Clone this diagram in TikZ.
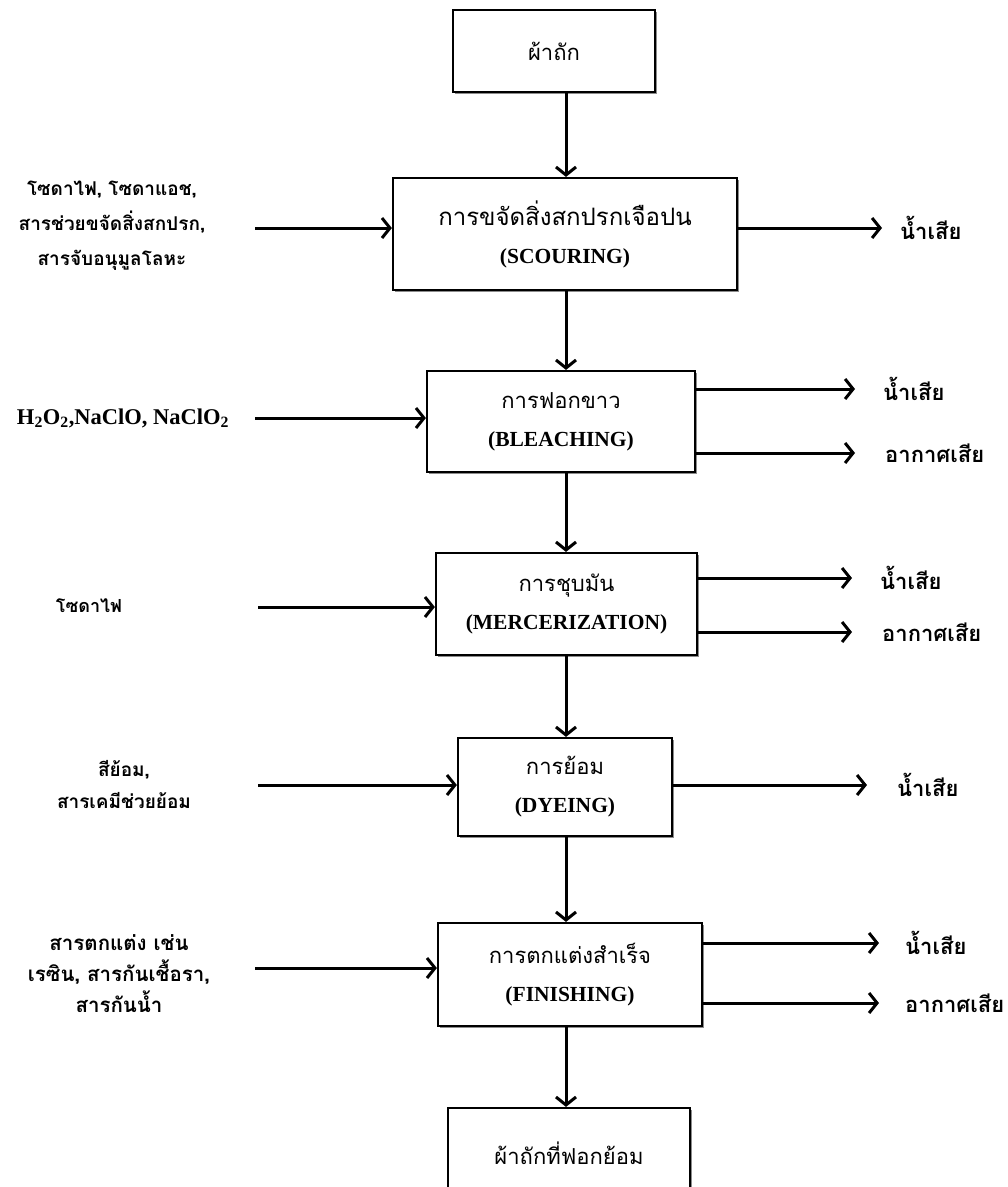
\documentclass[tikz,border=0pt]{standalone}
\usepackage{fontspec}
\setmainfont{Liberation Serif}
\newfontfamily\thai[Script=Thai]{Loma}
\usetikzlibrary{arrows.meta,shadows}
\tikzset{
  proc/.style={draw, line width=2.2pt, fill=white, align=center, inner sep=0pt,
    drop shadow={shadow xshift=1.5pt, shadow yshift=-1.5pt, opacity=0.45, fill=black},
    font=\fontsize{18}{38}\selectfont},
  arr/.style={line width=3pt, -{Straight Barb[length=8pt,width=20pt,line width=3pt]}},
  side/.style={align=center, inner sep=0pt, font=\thai\bfseries\fontsize{19}{35}\selectfont},
  outt/.style={anchor=west, inner sep=0pt, font=\thai\bfseries\fontsize{22}{24}\selectfont},
}
\newcommand{\thr}[1]{{\thai\fontsize{22}{38}\selectfont #1}}
\newcommand{\enb}[1]{{\rmfamily\bfseries\fontsize{21.5}{38}\selectfont #1}}
\begin{document}
\begin{tikzpicture}[x=1pt,y=-1pt]
\clip (0,0) rectangle (1008,1187);
\fill[white] (0,0) rectangle (1008,1187);
\coordinate (vx) at (566,0);

% process boxes
\node[proc, minimum width=202pt, minimum height=82pt] (b1) at (554,51) {\thr{ผ้าถัก}};
\node[proc, minimum width=344pt, minimum height=112pt] (s2) at (565,234) {{\thai\fontsize{24}{38}\selectfont การขจัดสิ่งสกปรกเจือปน}\\\enb{(SCOURING)}};
\node[proc, minimum width=268pt, minimum height=101pt] (s3) at (561,421.5) {\thr{การฟอกขาว}\\\enb{(BLEACHING)}};
\node[proc, minimum width=261pt, minimum height=102pt] (s4) at (566.5,604) {\thr{การชุบมัน}\\\enb{(MERCERIZATION)}};
\node[proc, minimum width=214pt, minimum height=98pt] (s5) at (565,787) {\thr{การย้อม}\\\enb{(DYEING)}};
\node[proc, minimum width=264pt, minimum height=103pt] (s6) at (570,974.5) {\thr{การตกแต่งสำเร็จ}\\\enb{(FINISHING)}};
\node[proc, minimum width=242pt, minimum height=90pt] (s7) at (569,1153) {\thr{ผ้าถักที่ฟอกย้อม}};

% vertical flow
\draw[arr] (b1.south -| vx) -- (s2.north -| vx);
\draw[arr] (s2.south -| vx) -- (s3.north -| vx);
\draw[arr] (s3.south -| vx) -- (s4.north -| vx);
\draw[arr] (s4.south -| vx) -- (s5.north -| vx);
\draw[arr] (s5.south -| vx) -- (s6.north -| vx);
\draw[arr] (s6.south -| vx) -- (s7.north -| vx);

% inputs
\node[side] (in2) at (112,226) {โซดาไฟ, โซดาแอช,\\สารช่วยขจัดสิ่งสกปรก,\\สารจับอนุมูลโลหะ};
\node[inner sep=0pt, font=\rmfamily\bfseries\fontsize{22.5}{24}\selectfont] (in3) at (123,418) {H\textsubscript{2}O\textsubscript{2},NaClO, NaClO\textsubscript{2}};
\node[side, font=\thai\bfseries\fontsize{18}{24}\selectfont] (in4) at (89,606) {โซดาไฟ};
\node[side, font=\thai\bfseries\fontsize{19}{32}\selectfont] (in5) at (124,784) {สีย้อม,\\สารเคมีช่วยย้อม};
\node[side, font=\thai\bfseries\fontsize{20.5}{31}\selectfont] (in6) at (119,974) {สารตกแต่ง เช่น\\เรซิน, สารกันเชื้อรา,\\สารกันน้ำ};

\coordinate (a2) at (255,228);
\coordinate (a3) at (255,418);
\coordinate (a4) at (258,607);
\coordinate (a5) at (258,785);
\coordinate (a6) at (255,968);
\draw[arr] (a2) -- (a2 -| s2.west);
\draw[arr] (a3) -- (a3 -| s3.west);
\draw[arr] (a4) -- (a4 -| s4.west);
\draw[arr] (a5) -- (a5 -| s5.west);
\draw[arr] (a6) -- (a6 -| s6.west);

% outputs
\node[outt] (w2) at (900,228) {น้ำเสีย};
\node[outt] (w3a) at (883,389) {น้ำเสีย};
\node[outt] (w3b) at (885,453) {อากาศเสีย};
\node[outt] (w4a) at (880,578) {น้ำเสีย};
\node[outt] (w4b) at (882,632) {อากาศเสีย};
\node[outt] (w5) at (897,785) {น้ำเสีย};
\node[outt] (w6a) at (905,943) {น้ำเสีย};
\node[outt] (w6b) at (905,1003) {อากาศเสีย};

\draw[arr, shorten >=18pt] (w2 -| s2.east) -- (w2.west);
\draw[arr, shorten >=28pt] (w3a -| s3.east) -- (w3a.west);
\draw[arr, shorten >=30pt] (w3b -| s3.east) -- (w3b.west);
\draw[arr, shorten >=28pt] (w4a -| s4.east) -- (w4a.west);
\draw[arr, shorten >=30pt] (w4b -| s4.east) -- (w4b.west);
\draw[arr, shorten >=30pt] (w5 -| s5.east) -- (w5.west);
\draw[arr, shorten >=26pt] (w6a -| s6.east) -- (w6a.west);
\draw[arr, shorten >=26pt] (w6b -| s6.east) -- (w6b.west);
\end{tikzpicture}
\end{document}
